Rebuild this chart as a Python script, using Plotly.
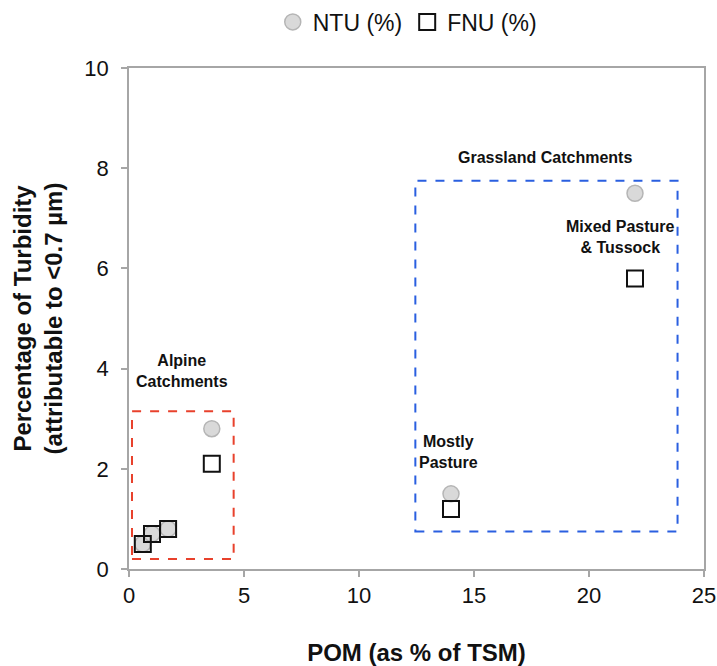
import plotly.graph_objects as go

# POM (as % of TSM) for each catchment
pom = [0.6, 1.0, 1.7, 3.6, 14.0, 22.0]
# Fraction of turbidity attributable to particles < 0.7 µm
ntu_pct = [0.5, 0.7, 0.8, 2.8, 1.5, 7.5]
fnu_pct = [0.5, 0.7, 0.8, 2.1, 1.2, 5.8]

# Catchment group boxes: (x0, x1, y0, y1)
alpine_box = (0.13, 4.55, 0.2, 3.15)
grassland_box = (12.45, 23.85, 0.75, 7.75)

x_ticks = [0, 5, 10, 15, 20, 25]
y_ticks = [0, 2, 4, 6, 8, 10]

FONT = "Liberation Sans, Arial, Helvetica, sans-serif"
INK = "#111111"

fig = go.Figure()

fig.add_trace(go.Scatter(
    x=pom, y=ntu_pct, mode="markers", name="NTU (%)",
    marker=dict(symbol="circle", size=16, color="#d9d9d9",
                line=dict(color="#b5b5b5", width=1.5)),
))
fig.add_trace(go.Scatter(
    x=pom, y=fnu_pct, mode="markers", name="FNU (%)",
    marker=dict(symbol="square", size=16, color="rgba(255,255,255,0)",
                line=dict(color=INK, width=2)),
))

# Dashed group outlines
for (x0, x1, y0, y1), col in [(alpine_box, "#e8412c"), (grassland_box, "#2a5fe0")]:
    fig.add_shape(type="rect", xref="x", yref="y", x0=x0, x1=x1, y0=y0, y1=y1,
                  line=dict(color=col, width=2, dash="dash"), layer="below")

notes = [
    (2.3, 3.95, "Alpine<br>Catchments"),
    (18.1, 8.22, "Grassland Catchments"),
    (21.35, 6.62, "Mixed Pasture<br>& Tussock"),
    (13.9, 2.34, "Mostly<br>Pasture"),
]
for x, y, t in notes:
    fig.add_annotation(x=x, y=y, text=f"<b>{t}</b>", showarrow=False,
                       font=dict(family=FONT, size=16, color=INK),
                       xanchor="center", yanchor="middle")

axis_common = dict(
    showgrid=False, zeroline=False, showline=True, linecolor="#a6a6a6",
    linewidth=1.5, mirror=True, ticks="outside", tickcolor="#a6a6a6",
    ticklen=6, tickwidth=1.5, tickfont=dict(family=FONT, size=22, color=INK),
    automargin=False, ticklabeloverflow="allow",
)

fig.update_xaxes(range=[0, 25], tickvals=x_ticks, **axis_common,
                 title=dict(text="<b>POM (as % of TSM)</b>", standoff=38,
                            font=dict(family=FONT, size=24, color=INK)))
fig.update_yaxes(range=[0, 10], tickvals=y_ticks, **axis_common,
                 ticklabelstandoff=8,
                 title=dict(text="<b>Percentage of Turbidity<br>(attributable to <0.7 µm)</b>",
                            standoff=15,
                            font=dict(family=FONT, size=24, color=INK)))

fig.update_layout(
    width=717, height=666,
    margin=dict(l=129, r=13, t=68, b=97),
    paper_bgcolor="white", plot_bgcolor="white",
    font=dict(family=FONT, color=INK),
    showlegend=True,
    legend=dict(orientation="h", x=0.568, xanchor="center", xref="container",
                y=0.967, yanchor="middle", yref="container",
                font=dict(family=FONT, size=23, color=INK),
                itemwidth=30, tracegroupgap=0),
)

fig.write_html("out.html")
